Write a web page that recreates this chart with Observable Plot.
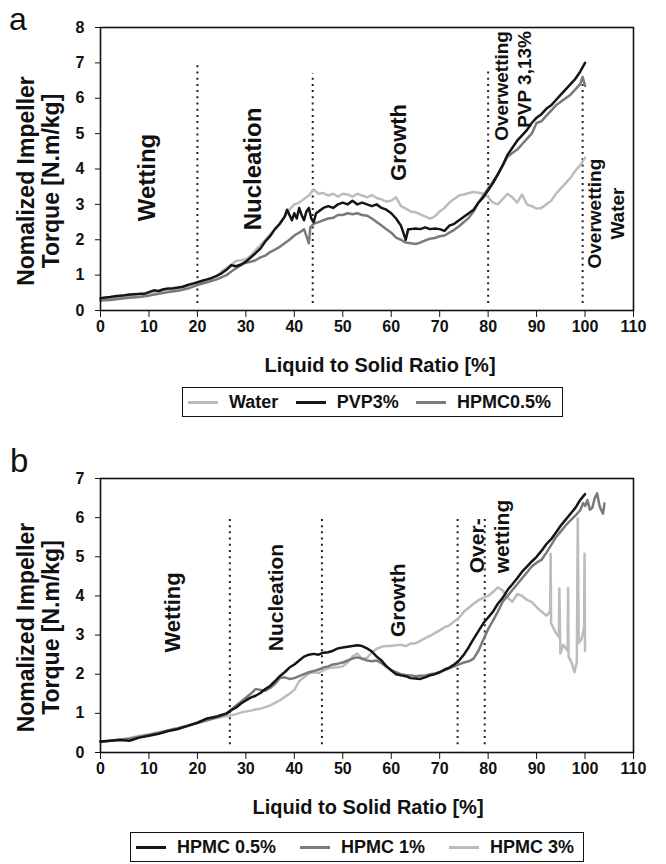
<!DOCTYPE html>
<html>
<head>
<meta charset="utf-8">
<script src="https://cdn.jsdelivr.net/npm/d3@7"></script>
<script src="https://cdn.jsdelivr.net/npm/@observablehq/plot@0.6"></script>
<style>
  html, body { margin: 0; padding: 0; background: white; }
  #fig { position: relative; width: 666px; height: 864px; background: white; font-family: "Liberation Sans", Arial, Helvetica, sans-serif; overflow: hidden; }
  .legend { position: absolute; box-sizing: border-box; border: 1.5px solid #111; display: flex; align-items: center; justify-content: space-between; font-weight: bold; font-size: 18px; color: #111; background: white; white-space: nowrap; }
  .legend .item { display: flex; align-items: center; gap: 11px; }
  .legend .sw { display: inline-block; width: 30px; height: 3px; }
</style>
</head>
<body>
<div id="fig"></div>
<script>
const FONT = '"Liberation Sans", Arial, Helvetica, sans-serif';

// ---------- Panel a data ----------
const xTicks = [0, 10, 20, 30, 40, 50, 60, 70, 80, 90, 100, 110];
const yTicksA = [0, 1, 2, 3, 4, 5, 6, 7, 8];
const seriesA = ["Water", "PVP3%", "HPMC0.5%"];

const waterA = [[0,0.3],[2,0.33],[4,0.36],[6,0.4],[8,0.43],[10,0.48],[12,0.52],[14,0.57],[16,0.62],[18,0.7],[20,0.78],[22,0.86],[24,0.98],[25,1.1],[26,1.2],[27,1.3],[28,1.4],[29,1.42],[30,1.45],[31,1.55],[32,1.7],[33,1.85],[34,2.0],[35,2.15],[36,2.3],[37,2.45],[38,2.65],[39,2.85],[40,3.0],[41,3.05],[42,3.15],[43,3.25],[44,3.42],[45,3.3],[46,3.32],[47,3.25],[48,3.3],[49,3.22],[50,3.3],[51,3.28],[52,3.22],[53,3.3],[54,3.25],[55,3.2],[56,3.26],[57,3.18],[58,3.14],[59,3.08],[60,3.1],[61,3.2],[62,2.95],[63,2.88],[64,2.8],[65,2.78],[66,2.72],[67,2.66],[68,2.6],[69,2.66],[70,2.8],[71,2.9],[72,3.05],[73,3.15],[74,3.25],[75,3.28],[76,3.32],[77,3.35],[78,3.33],[79,3.3],[80,3.2],[81,3.05],[82,3.0],[83,3.15],[84,3.3],[85,3.2],[86,3.05],[87,3.28],[88,3.0],[89,2.95],[90,2.88],[91,2.9],[92,3.0],[93,3.1],[94,3.3],[95,3.45],[96,3.6],[97,3.75],[98,3.95],[99,4.1],[100,4.32]];

const pvpA = [[0,0.35],[1,0.37],[2,0.38],[3,0.4],[4,0.42],[5,0.43],[6,0.45],[7,0.46],[8,0.47],[9,0.47],[10,0.52],[11,0.57],[12,0.55],[13,0.6],[14,0.62],[15,0.63],[16,0.65],[17,0.67],[18,0.72],[19,0.76],[20,0.8],[21,0.84],[22,0.88],[23,0.92],[24,0.98],[25,1.05],[26,1.15],[27,1.28],[28,1.25],[29,1.3],[30,1.38],[31,1.5],[32,1.62],[33,1.75],[34,1.95],[35,2.1],[36,2.3],[37,2.45],[38,2.65],[38.5,2.85],[39,2.7],[39.5,2.55],[40,2.75],[40.5,2.6],[41,2.9],[41.5,2.7],[42,2.55],[42.5,2.8],[43,2.9],[43.5,2.6],[44,2.5],[44.5,2.75],[45,2.8],[46,2.9],[47,2.95],[48,2.9],[49,3.0],[50,3.05],[51,3.0],[52,3.1],[53,3.0],[54,3.05],[55,3.0],[56,2.95],[57,3.0],[58,2.9],[59,2.85],[60,2.75],[61,2.6],[62,2.4],[62.5,2.2],[63,2.0],[63.5,2.3],[64,2.3],[65,2.32],[66,2.3],[67,2.35],[68,2.3],[69,2.32],[70,2.3],[71,2.25],[72,2.4],[73,2.45],[74,2.55],[75,2.65],[76,2.75],[77,2.85],[78,3.05],[79,3.2],[80,3.4],[81,3.6],[82,3.85],[83,4.1],[84,4.4],[85,4.6],[86,4.8],[87,4.95],[88,5.1],[89,5.3],[90,5.45],[91,5.55],[92,5.7],[93,5.8],[94,5.95],[95,6.1],[96,6.25],[97,6.4],[98,6.55],[99,6.75],[100,7.0]];

const hpmcA = [[0,0.28],[2,0.3],[4,0.33],[6,0.36],[8,0.38],[10,0.42],[12,0.47],[14,0.52],[16,0.56],[18,0.62],[20,0.72],[22,0.8],[24,0.88],[26,1.0],[27,1.1],[28,1.2],[29,1.28],[30,1.35],[31,1.38],[32,1.42],[33,1.5],[34,1.55],[35,1.65],[36,1.72],[37,1.8],[38,1.9],[39,2.0],[40,2.12],[41,2.2],[42,2.3],[42.5,2.1],[43,1.9],[43.3,2.35],[44,2.45],[45,2.5],[46,2.55],[47,2.6],[48,2.62],[49,2.7],[50,2.7],[51,2.75],[52,2.72],[53,2.75],[54,2.7],[55,2.68],[56,2.6],[57,2.5],[58,2.4],[59,2.3],[60,2.2],[61,2.06],[62,2.0],[63,1.92],[64,1.9],[65,1.88],[66,1.92],[67,1.98],[68,2.03],[69,2.05],[70,2.1],[71,2.12],[72,2.2],[73,2.28],[74,2.38],[75,2.5],[76,2.62],[77,2.8],[78,3.05],[79,3.25],[80,3.45],[81,3.65],[82,3.85],[83,4.1],[84,4.35],[85,4.45],[86,4.55],[87,4.7],[88,4.85],[89,5.0],[90,5.3],[91,5.35],[92,5.5],[93,5.65],[94,5.8],[95,5.9],[96,6.0],[97,6.1],[98,6.25],[99,6.4],[99.5,6.6],[100,6.35]];

const dividerXA = [20, 43.8, 80, 99.5];
const dividerTopA = [7.0, 6.7, 6.8, 6.5];
const regionTextA = ["Wetting", "Nucleation", "Growth", "Overwetting\nPVP 3,13%", "Overwetting\nWater"];
const regionXA = [9.3, 31.3, 61.4, 85.0, 104.1];
const regionYA = [3.76, 4.0, 4.75, 7.9, 2.74];

// ---------- Panel b data ----------
const yTicksB = [0, 1, 2, 3, 4, 5, 6, 7];
const seriesB = ["HPMC 0.5%", "HPMC 1%", "HPMC 3%"];

const hpmc05B = [[0,0.28],[2,0.3],[4,0.32],[6,0.3],[8,0.38],[10,0.43],[12,0.48],[14,0.55],[16,0.6],[18,0.68],[20,0.76],[22,0.87],[24,0.92],[26,1.0],[27,1.08],[28,1.15],[29,1.25],[30,1.33],[31,1.4],[32,1.45],[33,1.52],[34,1.62],[35,1.7],[36,1.82],[37,1.95],[38,2.05],[39,2.17],[40,2.25],[41,2.35],[42,2.45],[43,2.5],[44,2.52],[45,2.5],[46,2.55],[47,2.56],[48,2.6],[49,2.66],[50,2.68],[51,2.7],[52,2.72],[53,2.74],[54,2.72],[55,2.66],[56,2.58],[57,2.45],[58,2.35],[59,2.2],[60,2.1],[61,2.0],[62,1.97],[63,1.95],[64,1.9],[65,1.89],[66,1.88],[67,1.92],[68,1.97],[69,2.0],[70,2.05],[71,2.12],[72,2.17],[73,2.25],[74,2.35],[75,2.5],[76,2.69],[77,2.9],[78,3.1],[79,3.3],[80,3.45],[81,3.6],[82,3.8],[83,3.95],[84,4.15],[85,4.3],[86,4.45],[87,4.62],[88,4.75],[89,4.88],[90,5.0],[91,5.15],[92,5.32],[93,5.45],[94,5.62],[95,5.8],[96,5.95],[97,6.1],[98,6.25],[99,6.45],[100,6.6]];

const hpmc1B = [[0,0.27],[2,0.3],[4,0.33],[6,0.35],[8,0.4],[10,0.45],[12,0.5],[14,0.56],[16,0.62],[18,0.68],[20,0.75],[22,0.82],[24,0.9],[26,0.98],[27,1.1],[28,1.2],[29,1.3],[30,1.4],[31,1.5],[32,1.62],[33,1.6],[34,1.58],[35,1.65],[36,1.75],[37,1.9],[38,1.92],[39,1.88],[40,1.9],[41,1.95],[42,2.0],[43,2.05],[44,2.08],[45,2.12],[46,2.17],[47,2.2],[48,2.25],[49,2.27],[50,2.3],[51,2.35],[52,2.4],[53,2.43],[54,2.4],[55,2.35],[56,2.33],[57,2.35],[58,2.28],[59,2.2],[60,2.1],[61,2.05],[62,2.0],[63,1.98],[64,1.97],[65,1.95],[66,1.96],[67,1.97],[68,2.0],[69,2.02],[70,2.05],[71,2.1],[72,2.15],[73,2.2],[74,2.25],[75,2.3],[76,2.33],[77,2.4],[78,2.6],[79,2.88],[80,3.15],[81,3.37],[82,3.6],[83,3.85],[84,4.0],[85,4.15],[86,4.3],[87,4.45],[88,4.6],[89,4.75],[90,4.85],[91,4.92],[92,5.1],[93,5.3],[94,5.5],[95,5.65],[96,5.8],[97,5.93],[98,6.05],[99,6.19],[99.6,6.37],[100,6.3],[100.5,6.45],[101,6.2],[101.5,6.25],[102,6.5],[102.5,6.62],[103,6.3],[103.3,6.2],[103.7,6.1],[104,6.36]];

const hpmc3B = [[0,0.28],[2,0.3],[4,0.33],[6,0.37],[8,0.42],[10,0.47],[12,0.52],[14,0.57],[16,0.63],[18,0.7],[20,0.77],[22,0.83],[24,0.88],[26,0.93],[27,0.95],[28,0.98],[29,1.02],[30,1.05],[31,1.07],[32,1.1],[33,1.12],[34,1.16],[35,1.2],[36,1.27],[37,1.33],[38,1.42],[39,1.5],[40,1.6],[41,1.82],[42,1.92],[43,2.02],[44,2.05],[45,2.03],[46,2.1],[47,2.15],[48,2.17],[49,2.18],[50,2.2],[51,2.3],[52,2.45],[53,2.53],[54,2.38],[55,2.42],[56,2.55],[57,2.65],[58,2.7],[59,2.72],[60,2.72],[61,2.74],[62,2.75],[63,2.72],[64,2.78],[65,2.79],[66,2.85],[67,2.92],[68,2.98],[69,3.05],[70,3.12],[71,3.2],[72,3.25],[73,3.35],[74,3.45],[75,3.6],[76,3.7],[77,3.8],[78,3.89],[79,3.95],[80,4.0],[81,4.1],[82,4.22],[83,4.14],[84,3.95],[85,3.85],[86,4.05],[87,4.0],[88,3.9],[89,3.85],[90,3.71],[91,3.6],[92,3.5],[92.5,3.55],[92.8,3.63],[92.9,5.08],[93.0,3.3],[94,3.05],[94.6,2.95],[94.7,4.19],[94.9,2.53],[95.5,2.75],[96.4,2.6],[96.5,4.2],[96.6,2.45],[97.3,2.27],[97.8,2.05],[98.3,2.3],[98.5,5.98],[98.7,2.8],[99.3,2.9],[99.8,3.2],[99.9,5.08],[100,2.6]];

const dividerXB = [26.7, 45.7, 73.7, 79.3];
const dividerTopB = [6.0, 6.0, 6.0, 6.0];
const regionTextB = ["Wetting", "Nucleation", "Growth", "Over-\nwetting"];
const regionXB = [14.7, 36.0, 61.1, 80.1];
const regionYB = [3.58, 3.96, 3.89, 4.58];

// label styling (kept apart from the data)
const labelStyleA = [{fs: 24, a: "middle"}, {fs: 24, a: "middle"}, {fs: 22, a: "middle"}, {fs: 19, a: "end"}, {fs: 19, a: "middle"}];
const labelStyleB = [{fs: 22, a: "middle"}, {fs: 21, a: "middle"}, {fs: 21, a: "middle"}, {fs: 21, a: "start"}];

const colDark = "#151515", colMid = "#7a7a7a", colLight = "#bcbcbc";

function panel({yTicks, yMax, height, marginTop, lines, divX, divTop, rText, rX, rY, rStyle, titleDx}) {
  const dividers = divX.map((x, i) => ({x, y1: 0.2, y2: divTop[i]}));
  const marks = [];
  marks.push(Plot.ruleX(dividers, {x: "x", y1: "y1", y2: "y2", stroke: "#222", strokeWidth: 2, strokeDasharray: "2,4.2"}));
  for (const L of lines) {
    marks.push(Plot.line(L.data, {x: d => d[0], y: d => d[1], stroke: L.color, strokeWidth: 2.5, strokeLinejoin: "round"}));
  }
  rText.forEach((t, i) => {
    marks.push(Plot.text([t], {x: () => rX[i], y: () => rY[i], text: d => d, rotate: -90, textAnchor: rStyle[i].a, lineAnchor: "middle", lineHeight: 1.2, fontSize: rStyle[i].fs, fontWeight: "bold", fill: "#111"}));
  });
  marks.push(Plot.text(["Nomalized Impeller\nTorque [N.m/kg]"], {frameAnchor: "left", textAnchor: "middle", lineAnchor: "middle", rotate: -90, dx: -62, dy: 12, lineHeight: 1.1, fontSize: 23, fontWeight: "bold", fill: "#111"}));
  marks.push(Plot.text(["Liquid to Solid Ratio [%]"], {frameAnchor: "bottom", textAnchor: "middle", lineAnchor: "middle", dx: titleDx, dy: 55, fontSize: 20, fontWeight: "bold", fill: "#111"}));
  marks.push(Plot.frame({stroke: "#111", strokeWidth: 1.6}));
  return Plot.plot({
    width: 666, height, marginLeft: 100, marginRight: 33, marginTop, marginBottom: 70,
    style: {fontFamily: FONT, fontSize: "16px", fontWeight: "bold", color: "#111", background: "transparent", overflow: "visible"},
    x: {domain: [0, 110], ticks: xTicks, tickFormat: d3.format("d"), tickSize: 7, tickPadding: 3, label: null},
    y: {domain: [0, yMax], ticks: yTicks, tickFormat: d3.format("d"), tickSize: 5, tickPadding: 11, label: null},
    marks
  });
}

const fig = document.getElementById("fig");

const svgA = panel({
  yTicks: yTicksA, yMax: 8, height: 380, marginTop: 27, titleDx: 13,
  lines: [{data: waterA, color: colLight}, {data: hpmcA, color: colMid}, {data: pvpA, color: colDark}],
  divX: dividerXA, divTop: dividerTopA, rText: regionTextA, rX: regionXA, rY: regionYA, rStyle: labelStyleA
});
svgA.style.position = "absolute"; svgA.style.left = "0px"; svgA.style.top = "0px";
fig.appendChild(svgA);

const svgB = panel({
  yTicks: yTicksB, yMax: 7, height: 372, marginTop: 28, titleDx: 1,
  lines: [{data: hpmc3B, color: colLight}, {data: hpmc1B, color: colMid}, {data: hpmc05B, color: colDark}],
  divX: dividerXB, divTop: dividerTopB, rText: regionTextB, rX: regionXB, rY: regionYB, rStyle: labelStyleB
});
svgB.style.position = "absolute"; svgB.style.left = "0px"; svgB.style.top = "450px";
fig.appendChild(svgB);

// panel letters
const ns = "http://www.w3.org/2000/svg";
const letters = document.createElementNS(ns, "svg");
letters.setAttribute("width", 666); letters.setAttribute("height", 864);
letters.style.position = "absolute"; letters.style.left = "0px"; letters.style.top = "0px"; letters.style.pointerEvents = "none";
[["a", 9, 30, 32], ["b", 10, 472, 33]].forEach(([t, x, y, fs]) => {
  const el = document.createElementNS(ns, "text");
  el.setAttribute("x", x); el.setAttribute("y", y);
  el.setAttribute("font-family", FONT); el.setAttribute("font-size", fs); el.setAttribute("fill", "#111");
  el.textContent = t; letters.appendChild(el);
});
fig.appendChild(letters);

function legend(names, colors, left, top, width, height, pad) {
  const d = document.createElement("div");
  d.className = "legend";
  d.style.left = left + "px"; d.style.top = top + "px";
  d.style.width = width + "px"; d.style.height = height + "px";
  d.style.padding = "0 " + pad[1] + "px 0 " + pad[0] + "px";
  names.forEach((n, i) => {
    const it = document.createElement("span"); it.className = "item";
    const sw = document.createElement("span"); sw.className = "sw"; sw.style.background = colors[i];
    const tx = document.createElement("span"); tx.textContent = n;
    it.appendChild(sw); it.appendChild(tx); d.appendChild(it);
  });
  fig.appendChild(d);
}
legend(seriesA, [colLight, colDark, colMid], 182, 387, 381, 30, [5, 11]);
legend(seriesB, [colDark, colMid, colLight], 130, 832, 454, 30, [5, 9]);
</script>
</body>
</html>
